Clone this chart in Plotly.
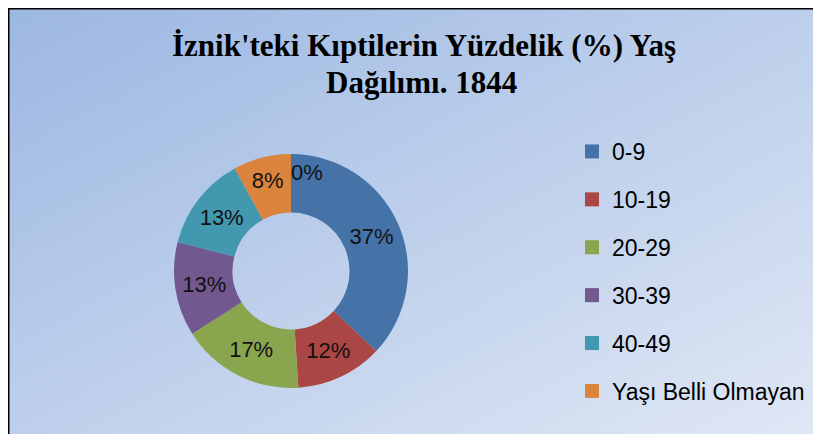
import base64, struct, zlib
import numpy as np
import plotly.graph_objects as go

# ---- data ----
categories = ["0-9", "10-19", "20-29", "30-39", "40-49", "Yaşı Belli Olmayan"]
percentages = [37, 12, 17, 13, 13, 8]
colors = ["#4572A7", "#AA4643", "#89A54E", "#71588F", "#4198AF", "#DB843D"]
extra_label = "0%"   # label of an empty (0 %) category shown at the top of the ring
title_lines = ["İznik'teki Kıptilerin Yüzdelik (%) Yaş", "Dağılımı. 1844"]

# the page body has an 8px margin; the figure fills the rest of the 821x434 window
OFF = 8
W, H = 821 - OFF, 434 - OFF

def px(x):
    return (x - OFF) / W

def py(y):
    return 1 - (y - OFF) / H

# ---- gradient background as a small PNG ----
def gradient_png(w, h, c0, c1):
    xs = np.linspace(0, 1, w)[None, :]
    ys = np.linspace(0, 1, h)[:, None]
    t = (xs + ys) / 2.0
    c0 = np.array(c0, float)
    c1 = np.array(c1, float)
    img = (c0[None, None, :] * (1 - t[..., None]) + c1[None, None, :] * t[..., None])
    img = np.clip(img, 0, 255).astype(np.uint8)
    raw = b"".join(b"\x00" + img[r].tobytes() for r in range(h))
    def chunk(tag, data):
        c = struct.pack(">I", len(data)) + tag + data
        return c + struct.pack(">I", zlib.crc32(tag + data) & 0xFFFFFFFF)
    png = b"\x89PNG\r\n\x1a\n"
    png += chunk(b"IHDR", struct.pack(">IIBBBBB", w, h, 8, 2, 0, 0, 0))
    png += chunk(b"IDAT", zlib.compress(raw, 9))
    png += chunk(b"IEND", b"")
    return "data:image/png;base64," + base64.b64encode(png).decode()

bg = gradient_png(200, 105, (157, 184, 227), (224, 232, 245))

fig = go.Figure()

cx, cy, r = 291, 271, 117
fig.add_trace(go.Pie(
    labels=categories,
    values=percentages,
    sort=False,
    direction="clockwise",
    rotation=0,
    hole=0.5,
    marker=dict(colors=colors, line=dict(width=0)),
    texttemplate="%{percent:.0%}",
    textposition="inside",
    insidetextorientation="horizontal",
    textfont=dict(family="Liberation Sans", size=22, color="#111111"),
    showlegend=False,
    domain=dict(x=[px(cx - r), px(cx + r)], y=[py(cy + r), py(cy - r)]),
))

# legend entries (one group per category for Excel-like spacing)
for cat, col in zip(categories, colors):
    fig.add_trace(go.Scatter(
        x=[None], y=[None], mode="markers", name=cat, legendgroup=cat,
        marker=dict(symbol="square", size=14, color=col),
        showlegend=True, hoverinfo="skip",
    ))

fig.add_annotation(text="<b>" + title_lines[0] + "</b>", x=px(424), y=py(45), xref="paper", yref="paper",
                   xanchor="center", yanchor="middle", showarrow=False,
                   font=dict(family="Liberation Serif", size=31, color="#000000"))
fig.add_annotation(text="<b>" + title_lines[1] + "</b>", x=px(421), y=py(82), xref="paper", yref="paper",
                   xanchor="center", yanchor="middle", showarrow=False,
                   font=dict(family="Liberation Serif", size=31, color="#000000"))
fig.add_annotation(text=extra_label, x=px(307), y=py(173), xref="paper", yref="paper",
                   xanchor="center", yanchor="middle", showarrow=False,
                   font=dict(family="Liberation Sans", size=22, color="#111111"))

fig.update_layout(
    width=W, height=H,
    margin=dict(l=0, r=0, t=0, b=0),
    paper_bgcolor="#FFFFFF",
    plot_bgcolor="rgba(0,0,0,0)",
    xaxis=dict(visible=False),
    yaxis=dict(visible=False),
    uniformtext=dict(minsize=22, mode="show"),
    legend=dict(
        x=px(572), y=py(130), xanchor="left", yanchor="top",
        bgcolor="rgba(0,0,0,0)",
        font=dict(family="Liberation Sans", size=23, color="#000000"),
        tracegroupgap=15, traceorder="grouped",
    ),
    images=[dict(source=bg, xref="paper", yref="paper", x=px(9), y=py(9),
                 sizex=(821 - 9) / W, sizey=(434 - 9) / H, sizing="stretch",
                 xanchor="left", yanchor="top", layer="below")],
    shapes=[
        dict(type="line", xref="paper", yref="paper", x0=px(8), x1=px(8),
             y0=-0.05, y1=1.0, line=dict(color="#000000", width=3)),
        dict(type="line", xref="paper", yref="paper", x0=0, x1=1.05,
             y0=py(8), y1=py(8), line=dict(color="#000000", width=3)),
    ],
)

fig.write_html("out.html")
